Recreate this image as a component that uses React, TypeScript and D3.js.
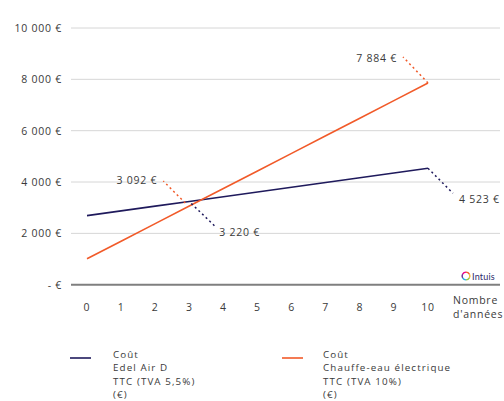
import React from "react";
import * as d3 from "d3";

const years = [0, 1, 2, 3, 4, 5, 6, 7, 8, 9, 10];
const edelAirD = [2690, 2875, 3060, 3240, 3425, 3610, 3795, 3980, 4165, 4350, 4535];
const chauffeEau = [1010, 1695, 2380, 3065, 3745, 4430, 5115, 5800, 6485, 7170, 7860];
const yTicks = [0, 2000, 4000, 6000, 8000, 10000];
const yTickLabels = ["- €", "2 000 €", "4 000 €", "6 000 €", "8 000 €", "10 000 €"];
const legendEdel = ["Coût", "Edel Air D", "TTC (TVA 5,5%)", "(€)"];
const legendChauffe = ["Coût", "Chauffe-eau électrique", "TTC (TVA 10%)", "(€)"];
const annotations = [
  { series: "orange", year: 10, text: "7 884 €" },
  { series: "orange", year: 3, text: "3 092 €" },
  { series: "blue", year: 3, text: "3 220 €" },
  { series: "blue", year: 10, text: "4 523 €" },
];

const BLUE = "#1f1a5c";
const ORANGE = "#f15a29";
const TEXT = "#3a3a3a";
const FONT = "'Open Sans', sans-serif";
const FS = 10.5;
const LS = 0.75;
const LEG_FS = 9.8;
const LEG_LS = 1.1;
const LEG_STEP = 13.4;

export default function App() {
  const x = d3.scaleLinear().domain([0, 10]).range([87, 428]);
  const y = d3.scaleLinear().domain([0, 10000]).range([284.7, 28]);
  const line = d3
    .line<number>()
    .x((_, i) => x(years[i]))
    .y((d) => y(d));

  const ptO3 = [x(3), y(chauffeEau[3])];
  const ptB3 = [x(3), y(edelAirD[3])];
  const ptO10 = [x(10), y(chauffeEau[10])];
  const ptB10 = [x(10), y(edelAirD[10])];

  const leaders = [
    { c: ORANGE, x1: ptO10[0], y1: ptO10[1], x2: ptO10[0] - 25, y2: ptO10[1] - 26 },
    { c: ORANGE, x1: ptO3[0] - 4, y1: ptO3[1] - 3, x2: ptO3[0] - 26, y2: ptO3[1] - 25 },
    { c: BLUE, x1: ptB3[0] + 2, y1: ptB3[1] + 2, x2: ptB3[0] + 26, y2: ptB3[1] + 25 },
    { c: BLUE, x1: ptB10[0], y1: ptB10[1], x2: ptB10[0] + 25, y2: ptB10[1] + 25 },
  ];
  const labelPos = [
    { x: ptO10[0] - 31, y: ptO10[1] - 25, anchor: "end" },
    { x: ptO3[0] - 32, y: ptO3[1] - 26, anchor: "end" },
    { x: ptB3[0] + 30, y: ptB3[1] + 30, anchor: "start" },
    { x: ptB10[0] + 31, y: ptB10[1] + 31, anchor: "start" },
  ];

  const logoColors = ["#f15a29", "#f7b733", "#8dc63f", "#29abe2", "#662d91", "#ec008c"];
  const arc = d3.arc();
  const logoCx = 466;
  const logoCy = 276;

  return (
    <svg
      width={504}
      height={401}
      style={{ position: "absolute", left: 0, top: 0, background: "#fff" }}
      fontFamily={FONT}
      letterSpacing={LS}
    >
      {yTicks.map((t) =>
        t === 0 ? null : (
          <line key={"g" + t} x1={71} x2={500} y1={y(t)} y2={y(t)} stroke="#d6d6d6" strokeWidth={1} />
        )
      )}
      <line x1={71} x2={500} y1={y(0)} y2={y(0)} stroke="#7f7f7f" strokeWidth={2} />
      {yTicks.map((t, i) => (
        <text key={"yl" + t} x={62} y={y(t) + 4} textAnchor="end" fontSize={FS} fill={TEXT}>
          {yTickLabels[i]}
        </text>
      ))}
      {years.map((yr) => (
        <text key={"xl" + yr} x={x(yr)} y={311} textAnchor="middle" fontSize={FS} fill={TEXT}>
          {yr}
        </text>
      ))}
      <text x={453} y={303.5} fontSize={FS} fill={TEXT}>Nombre</text>
      <text x={453} y={318} fontSize={FS} fill={TEXT}>d'années</text>

      <path d={line(edelAirD) || ""} fill="none" stroke={BLUE} strokeWidth={1.6} />
      <path d={line(chauffeEau) || ""} fill="none" stroke={ORANGE} strokeWidth={1.6} />

      {leaders.map((l, i) => (
        <line
          key={"ld" + i}
          x1={l.x1}
          y1={l.y1}
          x2={l.x2}
          y2={l.y2}
          stroke={l.c}
          strokeWidth={1.5}
          strokeDasharray="2,3"
        />
      ))}
      {annotations.map((a, i) => (
        <text
          key={"an" + i}
          x={labelPos[i].x}
          y={labelPos[i].y + 4}
          textAnchor={labelPos[i].anchor as any}
          fontSize={FS}
          fill={TEXT}
        >
          {a.text}
        </text>
      ))}

      {logoColors.map((c, i) => (
        <path
          key={"lc" + i}
          transform={`translate(${logoCx},${logoCy})`}
          d={
            arc({
              innerRadius: 3.2,
              outerRadius: 4.6,
              startAngle: (i * 2 * Math.PI) / logoColors.length,
              endAngle: ((i + 1) * 2 * Math.PI) / logoColors.length,
            }) || ""
          }
          fill={c}
        />
      ))}
      <text x={472} y={279.5} fontSize={9} letterSpacing={0.2} fill="#2b2a6b" fontFamily="Lato, sans-serif">Intuis</text>

      <line x1={70} x2={91} y1={358} y2={358} stroke={BLUE} strokeWidth={1.6} />
      <line x1={282} x2={303} y1={358} y2={358} stroke={ORANGE} strokeWidth={1.6} />
      {legendEdel.map((t, i) => (
        <text key={"le" + i} x={113} y={358 + i * LEG_STEP} fontSize={LEG_FS} letterSpacing={LEG_LS} fill={TEXT}>{t}</text>
      ))}
      {legendChauffe.map((t, i) => (
        <text key={"lo" + i} x={323} y={358 + i * LEG_STEP} fontSize={LEG_FS} letterSpacing={LEG_LS} fill={TEXT}>{t}</text>
      ))}
    </svg>
  );
}
